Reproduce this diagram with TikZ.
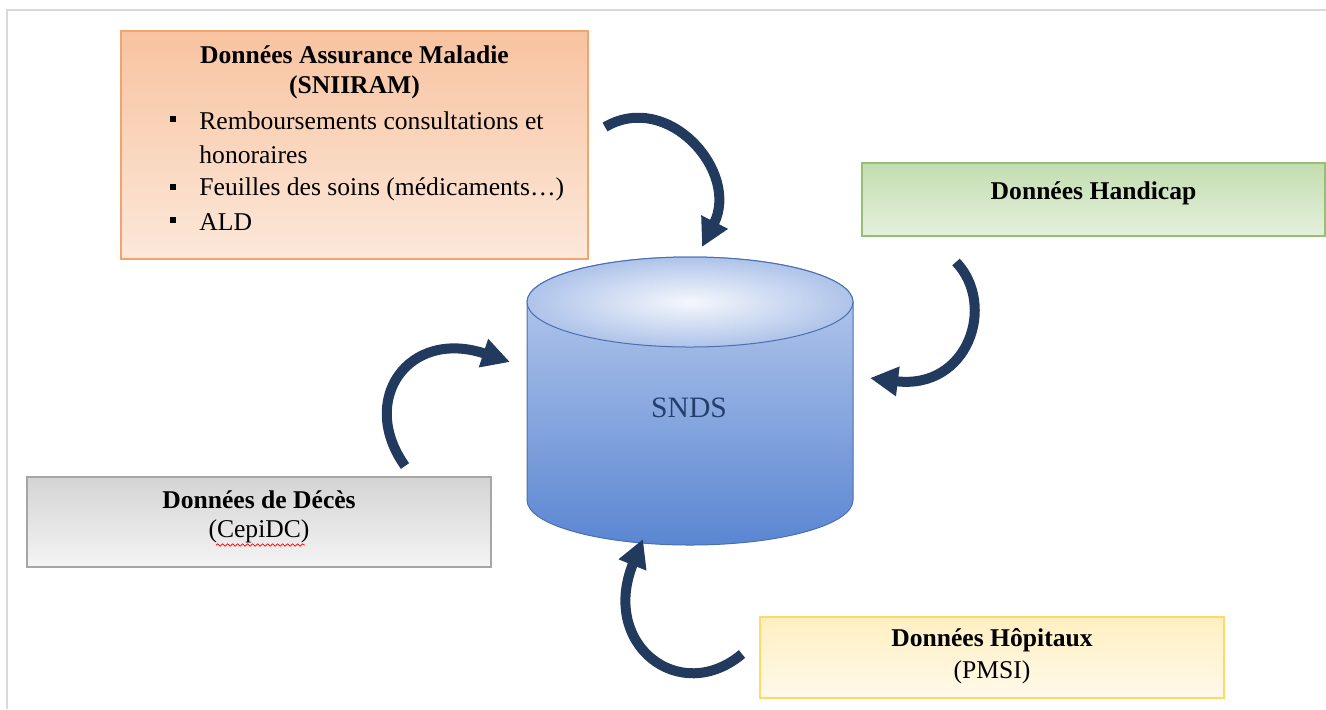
\documentclass[tikz,border=0pt]{standalone}
\usepackage{fontspec}
\setmainfont{Liberation Serif}
\usetikzlibrary{arrows.meta,decorations.pathmorphing}
\definecolor{arrowc}{HTML}{223A5E}
\definecolor{orbord}{HTML}{F2A46F}
\definecolor{ortop}{HTML}{F8C3A0}
\definecolor{orbot}{HTML}{FCE8DA}
\definecolor{grbord}{HTML}{93C072}
\definecolor{grtop}{HTML}{C3DDB0}
\definecolor{grbot}{HTML}{E4F0DC}
\definecolor{gybord}{HTML}{A6A6A6}
\definecolor{gytop}{HTML}{D4D4D4}
\definecolor{gybot}{HTML}{F4F4F4}
\definecolor{yebord}{HTML}{FFD966}
\definecolor{yetop}{HTML}{FFEFC2}
\definecolor{yebot}{HTML}{FFF9EA}
\definecolor{cylbord}{HTML}{4A6FB0}
\definecolor{cyltop}{HTML}{BDCEEE}
\definecolor{cylbot}{HTML}{5A86D2}
\definecolor{sndsc}{HTML}{243F6E}
\definecolor{framec}{HTML}{D9D9D9}
\begin{document}
\begin{tikzpicture}[x=0.5pt,y=-0.5pt,
  srcbox/.style={draw, line width=0.7pt, inner sep=0pt, rectangle},
  lbl/.style={font=\fontsize{12.8}{17}\selectfont, inner sep=0pt},
  blbl/.style={font=\fontsize{12.8}{17}\selectfont\bfseries, inner sep=0pt},
  curvarr/.style={draw=arrowc, line width=5pt, -{Triangle[length=14pt,width=14pt]}},
  bulletsq/.style={fill=black, inner sep=0pt, minimum width=2.8pt, minimum height=3.2pt}
]
\useasboundingbox (0,0) rectangle (1326,709);
% page frame
\draw[framec, line width=0.8pt] (7,709) -- (7,10) -- (1326,10);

% Assurance Maladie box
\node[srcbox, draw=orbord, top color=ortop, bottom color=orbot,
      minimum width=233.5pt, minimum height=114pt] (assur) at (354.5,145) {};
\node[blbl] (assurt1) at (354.5,55) {Données Assurance Maladie};
\node[blbl] (assurt2) at (354.5,87) {(SNIIRAM)};
\node[bulletsq] (b1) at (173,119) {};
\node[lbl, anchor=west] (l1) at (199,121) {Remboursements consultations et};
\node[lbl, anchor=west] (l2) at (199,155) {honoraires};
\node[bulletsq] (b2) at (173,187) {};
\node[lbl, anchor=west] (l3) at (199,189) {Feuilles des soins (médicaments…)};
\node[bulletsq] (b3) at (173,220) {};
\node[lbl, anchor=west] (l4) at (199,222) {ALD};

% Handicap box
\node[srcbox, draw=grbord, top color=grtop, bottom color=grbot,
      minimum width=231.5pt, minimum height=36.5pt] (handi) at (1093.5,199.5) {};
\node[blbl] (handit) at (1093.5,193) {Données Handicap};

% Deces box
\node[srcbox, draw=gybord, top color=gytop, bottom color=gybot,
      minimum width=232pt, minimum height=45pt] (deces) at (259,522) {};
\node[blbl] (decest1) at (259,500) {Données de Décès};
\node[lbl] (decest2) at (259,531) {(CepiDC)};
\draw[red, line width=0.35pt, decorate, decoration={snake, amplitude=0.6pt, segment length=2.5pt}]
  (216,545) -- (305,545);

% Hopitaux box
\node[srcbox, draw=yebord, top color=yetop, bottom color=yebot,
      minimum width=232pt, minimum height=40.5pt] (hopit) at (992,657.5) {};
\node[blbl] (hopitt1) at (992,640) {Données Hôpitaux};
\node[lbl] (hopitt2) at (992,672) {(PMSI)};

% SNDS cylinder
\shade[top color=cyltop, bottom color=cylbot, draw=cylbord, line width=0.5pt]
  (527,302) -- (527,500) arc[start angle=180, end angle=0, x radius=163, y radius=45]
  -- (853,302) arc[start angle=0, end angle=-180, x radius=163, y radius=45] -- cycle;
\shade[inner color=white!85!cyltop, outer color=cyltop!85!cylbot, draw=cylbord, line width=0.5pt]
  (690,302) ellipse[x radius=163, y radius=45];
\node[font=\fontsize{14.8}{17}\selectfont, text=sndsc, inner sep=0pt] (snds) at (689,408) {SNDS};

% curved arrows
\coordinate (a1s) at (605,127);
\coordinate (a1e) at (702,247);
\draw[curvarr] (a1s) .. controls (668,90) and (740,172) .. (a1e);

\coordinate (a2s) at (956,262);
\coordinate (a2e) at (870,378);
\draw[curvarr] (a2s) .. controls (997,305) and (968,390) .. (a2e);

\coordinate (a3s) at (405,466);
\coordinate (a3e) at (510,362);
\draw[curvarr] (a3s) .. controls (358,400) and (408,328) .. (a3e);

\coordinate (a4s) at (742,654);
\coordinate (a4e) at (643,539);
\draw[curvarr] (a4s) .. controls (680,706) and (600,645) .. (a4e);
\end{tikzpicture}
\end{document}
